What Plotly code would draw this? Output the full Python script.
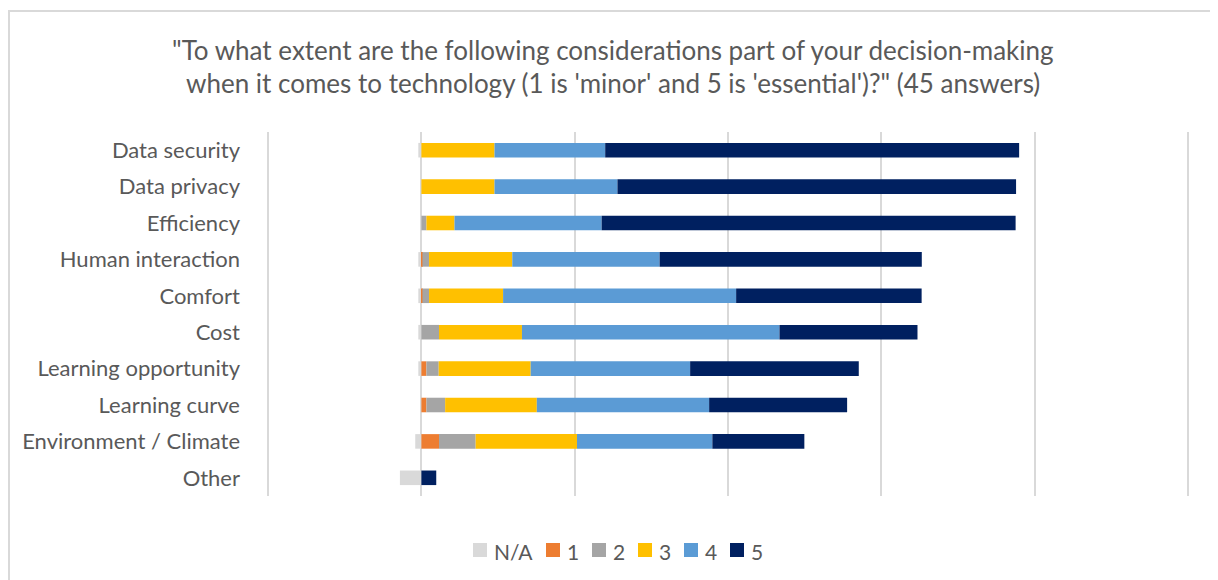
import plotly.graph_objects as go

categories = ["Data security", "Data privacy", "Efficiency", "Human interaction", "Comfort",
              "Cost", "Learning opportunity", "Learning curve", "Environment / Climate", "Other"]
series_names = ["N/A", "1", "2", "3", "4", "5"]
na_vals = [0.2, 0.05, 0.0, 0.2, 0.2, 0.2, 0.2, 0.0, 0.4, 1.4]
v1 = [0, 0, 0, 0.07, 0.07, 0, 0.33, 0.33, 1.15, 0]
v2 = [0, 0, 0.33, 0.43, 0.43, 1.15, 0.8, 1.22, 2.39, 0]
v3 = [4.77, 4.77, 1.83, 5.43, 4.83, 5.41, 6.0, 5.98, 6.61, 0]
v4 = [7.22, 8.02, 9.6, 9.61, 15.2, 16.8, 10.4, 11.24, 8.83, 0]
v5 = [27.0, 26.0, 27.0, 17.1, 12.1, 9.0, 11.0, 9.0, 6.0, 0.97]

colors = ["#D9D9D9", "#ED7D31", "#A5A5A5", "#FFC000", "#5B9BD5", "#002060"]
values = [[-v for v in na_vals], v1, v2, v3, v4, v5]

fig = go.Figure()
for name, vals, col in zip(series_names, values, colors):
    fig.add_trace(go.Bar(
        y=categories, x=vals, name=name, orientation="h",
        marker=dict(color=col, line=dict(width=0)),
        hoverinfo="x+y+name", showlegend=False,
    ))

FONT = "Lato, Carlito, Calibri, sans-serif"
GRAY = "#595959"
L, R = 257, 1183
T, B = 124, 488
W, H = R - L, B - T


def px_x(px):
    return (px - L) / W


def px_y(py):
    return (B - py) / H


annotations = [
    dict(text="\"To what extent are the following considerations part of your decision-making",
         xref="paper", yref="paper", x=px_x(605), xanchor="center",
         y=px_y(42), yanchor="middle", showarrow=False,
         font=dict(size=26, color=GRAY, family=FONT)),
    dict(text="when it comes to technology (1 is 'minor' and 5 is 'essential')?\" (45 answers)",
         xref="paper", yref="paper", x=px_x(605), xanchor="center",
         y=px_y(75), yanchor="middle", showarrow=False,
         font=dict(size=26, color=GRAY, family=FONT)),
]
shapes = [dict(type="rect", xref="paper", yref="paper",
               x0=px_x(1), x1=px_x(1208), y0=px_y(620), y1=px_y(3),
               line=dict(color="#D9D9D9", width=2), fillcolor="rgba(0,0,0,0)", layer="below")]

# legend (drawn as shapes + text, placed in a row)
leg_x = 465
leg_y = 542
for name, col in zip(series_names, colors):
    shapes.append(dict(type="rect", xref="paper", yref="paper",
                       x0=px_x(leg_x), x1=px_x(leg_x + 14),
                       y0=px_y(leg_y + 7), y1=px_y(leg_y - 7),
                       line=dict(width=0), fillcolor=col))
    annotations.append(dict(text=name, xref="paper", yref="paper",
                            x=px_x(leg_x + 19), xanchor="left",
                            y=px_y(leg_y + 1), yanchor="middle", showarrow=False,
                            font=dict(size=21, color=GRAY, family=FONT)))
    tw = 38 if len(name) > 1 else 11
    leg_x += 20 + tw + 15

fig.update_layout(
    width=1218, height=580,
    barmode="relative", bargap=0.6,
    paper_bgcolor="white", plot_bgcolor="white",
    margin=dict(l=L, r=1218 - R, t=T, b=580 - B),
    font=dict(family=FONT, color=GRAY, size=18),
    showlegend=False,
    xaxis=dict(range=[-10.2, 50.2], dtick=10, tick0=0, showticklabels=False,
               showgrid=True, gridcolor="#D9D9D9", gridwidth=1.5,
               zeroline=True, zerolinecolor="#D9D9D9", zerolinewidth=1.5,
               showline=False, fixedrange=True),
    yaxis=dict(autorange="reversed", showgrid=False, showline=False, ticks="",
               tickfont=dict(size=22, color=GRAY, family=FONT),
               ticklabelstandoff=24, fixedrange=True),
    annotations=annotations,
    shapes=shapes,
)

fig.write_html("out.html")
